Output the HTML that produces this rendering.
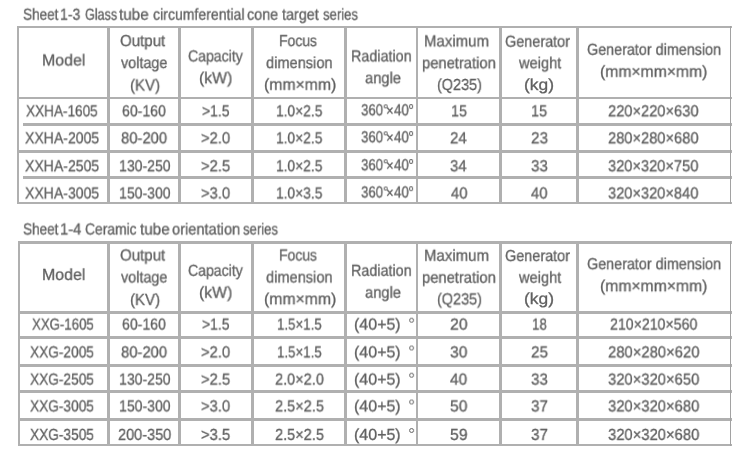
<!DOCTYPE html><html><head><meta charset="utf-8"><style>
html,body{margin:0;padding:0;background:#fff;}
body{width:750px;height:460px;overflow:hidden;position:relative;font-family:"Liberation Sans",sans-serif;color:#606060;text-rendering:geometricPrecision;}
.t{position:absolute;white-space:nowrap;font-size:16px;line-height:16px;will-change:transform;-webkit-text-stroke:0.3px #606060;}
.l{position:absolute;background:#b0b0b0;}
.r{position:absolute;box-sizing:border-box;border-style:solid;border-color:#606060;border-radius:50%;will-change:transform;}
</style></head><body>
<div class="l" style="left:17px;top:26px;width:715px;height:2px"></div>
<div class="l" style="left:17px;top:97px;width:715px;height:2px"></div>
<div class="l" style="left:23px;top:123px;width:709px;height:3px"></div>
<div class="l" style="left:17px;top:150px;width:715px;height:3px"></div>
<div class="l" style="left:23px;top:176px;width:709px;height:3px"></div>
<div class="l" style="left:17px;top:202px;width:715px;height:2px"></div>
<div class="l" style="left:18px;top:241px;width:714px;height:3px"></div>
<div class="l" style="left:20px;top:311px;width:712px;height:3px"></div>
<div class="l" style="left:18px;top:336px;width:714px;height:3px"></div>
<div class="l" style="left:20px;top:364px;width:712px;height:3px"></div>
<div class="l" style="left:18px;top:390px;width:714px;height:3px"></div>
<div class="l" style="left:18px;top:418px;width:714px;height:3px"></div>
<div class="l" style="left:18px;top:444px;width:714px;height:2px"></div>
<div class="l" style="left:17px;top:26px;width:2px;height:178px"></div>
<div class="l" style="left:107px;top:26px;width:3px;height:178px"></div>
<div class="l" style="left:178px;top:26px;width:3px;height:178px"></div>
<div class="l" style="left:251px;top:26px;width:3px;height:178px"></div>
<div class="l" style="left:344px;top:26px;width:3px;height:178px"></div>
<div class="l" style="left:416px;top:26px;width:2px;height:178px"></div>
<div class="l" style="left:499px;top:26px;width:3px;height:178px"></div>
<div class="l" style="left:576px;top:26px;width:3px;height:178px"></div>
<div class="l" style="left:730px;top:26px;width:1px;height:178px;background:#a2a2a2"></div>
<div class="l" style="left:18px;top:241px;width:2px;height:205px"></div>
<div class="l" style="left:107px;top:241px;width:3px;height:205px"></div>
<div class="l" style="left:178px;top:241px;width:3px;height:205px"></div>
<div class="l" style="left:251px;top:241px;width:3px;height:205px"></div>
<div class="l" style="left:344px;top:241px;width:3px;height:205px"></div>
<div class="l" style="left:416px;top:241px;width:2px;height:205px"></div>
<div class="l" style="left:499px;top:241px;width:3px;height:205px"></div>
<div class="l" style="left:576px;top:241px;width:3px;height:205px"></div>
<div class="l" style="left:730px;top:241px;width:1px;height:205px;background:#a2a2a2"></div>
<div class="t" style="left:22.58px;top:7px;transform-origin:0 12.0px;transform:translateY(0.70px) scale(0.8472,1.000)">Sheet</div>
<div class="t" style="left:60.03px;top:7px;transform-origin:0 12.0px;transform:translateY(0.70px) scale(0.8774,1.000)">1-3</div>
<div class="t" style="left:84.67px;top:7px;transform-origin:0 12.0px;transform:translateY(0.70px) scale(0.7844,1.000)">Glass</div>
<div class="t" style="left:119.27px;top:7px;transform-origin:0 12.0px;transform:translateY(0.70px) scale(0.9539,1.000)">tube</div>
<div class="t" style="left:152.71px;top:7px;transform-origin:0 12.0px;transform:translateY(0.70px) scale(0.8799,1.000)">circumferential</div>
<div class="t" style="left:247.40px;top:7px;transform-origin:0 12.0px;transform:translateY(0.70px) scale(0.8976,1.000)">cone</div>
<div class="t" style="left:281.88px;top:7px;transform-origin:0 12.0px;transform:translateY(0.70px) scale(0.8974,1.000)">target</div>
<div class="t" style="left:322.73px;top:7px;transform-origin:0 12.0px;transform:translateY(0.70px) scale(0.8185,1.000)">series</div>
<div class="t" style="left:22.58px;top:222px;transform-origin:0 12.0px;transform:translateY(0.50px) scale(0.8472,1.000)">Sheet</div>
<div class="t" style="left:59.98px;top:222px;transform-origin:0 12.0px;transform:translateY(0.50px) scale(0.9188,1.000)">1-4</div>
<div class="t" style="left:84.89px;top:222px;transform-origin:0 12.0px;transform:translateY(0.50px) scale(0.8657,1.000)">Ceramic</div>
<div class="t" style="left:140.07px;top:222px;transform-origin:0 12.0px;transform:translateY(0.50px) scale(0.9539,1.000)">tube</div>
<div class="t" style="left:172.09px;top:222px;transform-origin:0 12.0px;transform:translateY(0.50px) scale(0.9122,1.000)">orientation</div>
<div class="t" style="left:243.23px;top:222px;transform-origin:0 12.0px;transform:translateY(0.50px) scale(0.8185,1.000)">series</div>
<div class="t" style="left:42.20px;top:53px;transform-origin:0 12.0px;transform:translateY(0.50px) scale(0.9931,1.000)">Model</div>
<div class="t" style="left:119.69px;top:34px;transform-origin:0 12.0px;transform:translateY(0.10px) scale(0.9413,1.000)">Output</div>
<div class="t" style="left:121.34px;top:56px;transform-origin:0 12.0px;transform:translateY(0.10px) scale(0.8974,1.000)">voltage</div>
<div class="t" style="left:129.57px;top:78px;transform-origin:0 12.0px;transform:translateY(0.50px) scale(0.9395,1.000)">(KV)</div>
<div class="t" style="left:187.78px;top:49px;transform-origin:0 12.0px;transform:translateY(0.40px) scale(0.8794,1.000)">Capacity</div>
<div class="t" style="left:198.92px;top:71px;transform-origin:0 12.0px;transform:translateY(0.30px) scale(0.9850,1.000)">(kW)</div>
<div class="t" style="left:278.76px;top:34px;transform-origin:0 12.0px;transform:translateY(0.10px) scale(0.8709,1.000)">Focus</div>
<div class="t" style="left:266.39px;top:56px;transform-origin:0 12.0px;transform:translateY(0.10px) scale(0.9127,1.000)">dimension</div>
<div class="t" style="left:263.72px;top:77px;transform-origin:0 12.0px;transform:translateY(0.80px) scale(0.9856,1.000)">(mm×mm)</div>
<div class="t" style="left:350.62px;top:49px;transform-origin:0 12.0px;transform:translateY(0.40px) scale(0.8966,1.000)">Radiation</div>
<div class="t" style="left:365.28px;top:71px;transform-origin:0 12.0px;transform:translateY(0.30px) scale(0.9186,1.000)">angle</div>
<div class="t" style="left:424.27px;top:34px;transform-origin:0 12.0px;transform:translateY(0.40px) scale(0.9376,1.000)">Maximum</div>
<div class="t" style="left:422.26px;top:56px;transform-origin:0 12.0px;transform:translateY(0.30px) scale(0.9218,1.000)">penetration</div>
<div class="t" style="left:436.61px;top:78px;transform-origin:0 12.0px;transform:translateY(0.00px) scale(0.9015,1.000)">(Q235)</div>
<div class="t" style="left:505.08px;top:34px;transform-origin:0 12.0px;transform:translateY(0.70px) scale(0.9019,1.000)">Generator</div>
<div class="t" style="left:518.61px;top:56px;transform-origin:0 12.0px;transform:translateY(0.30px) scale(0.9142,1.000)">weight</div>
<div class="t" style="left:523.92px;top:78px;transform-origin:0 12.0px;transform:translateY(0.00px) scale(1.0873,1.000)">(kg)</div>
<div class="t" style="left:586.88px;top:42px;transform-origin:0 12.0px;transform:translateY(0.80px) scale(0.8972,1.000)">Generator dimension</div>
<div class="t" style="left:600.03px;top:64px;transform-origin:0 12.0px;transform:translateY(0.80px) scale(0.9820,1.000)">(mm×mm×mm)</div>
<div class="t" style="left:42.20px;top:267px;transform-origin:0 12.0px;transform:translateY(0.90px) scale(0.9931,1.000)">Model</div>
<div class="t" style="left:119.69px;top:248px;transform-origin:0 12.0px;transform:translateY(0.50px) scale(0.9413,1.000)">Output</div>
<div class="t" style="left:121.34px;top:270px;transform-origin:0 12.0px;transform:translateY(0.50px) scale(0.8974,1.000)">voltage</div>
<div class="t" style="left:129.57px;top:292px;transform-origin:0 12.0px;transform:translateY(0.90px) scale(0.9395,1.000)">(KV)</div>
<div class="t" style="left:187.78px;top:263px;transform-origin:0 12.0px;transform:translateY(0.80px) scale(0.8794,1.000)">Capacity</div>
<div class="t" style="left:198.92px;top:285px;transform-origin:0 12.0px;transform:translateY(0.70px) scale(0.9850,1.000)">(kW)</div>
<div class="t" style="left:278.76px;top:248px;transform-origin:0 12.0px;transform:translateY(0.50px) scale(0.8709,1.000)">Focus</div>
<div class="t" style="left:266.39px;top:270px;transform-origin:0 12.0px;transform:translateY(0.50px) scale(0.9127,1.000)">dimension</div>
<div class="t" style="left:263.72px;top:292px;transform-origin:0 12.0px;transform:translateY(0.20px) scale(0.9856,1.000)">(mm×mm)</div>
<div class="t" style="left:350.62px;top:263px;transform-origin:0 12.0px;transform:translateY(0.80px) scale(0.8966,1.000)">Radiation</div>
<div class="t" style="left:365.28px;top:285px;transform-origin:0 12.0px;transform:translateY(0.70px) scale(0.9186,1.000)">angle</div>
<div class="t" style="left:424.27px;top:248px;transform-origin:0 12.0px;transform:translateY(0.80px) scale(0.9376,1.000)">Maximum</div>
<div class="t" style="left:422.26px;top:270px;transform-origin:0 12.0px;transform:translateY(0.70px) scale(0.9218,1.000)">penetration</div>
<div class="t" style="left:436.61px;top:292px;transform-origin:0 12.0px;transform:translateY(0.40px) scale(0.9015,1.000)">(Q235)</div>
<div class="t" style="left:505.08px;top:249px;transform-origin:0 12.0px;transform:translateY(0.10px) scale(0.9019,1.000)">Generator</div>
<div class="t" style="left:518.61px;top:270px;transform-origin:0 12.0px;transform:translateY(0.70px) scale(0.9142,1.000)">weight</div>
<div class="t" style="left:523.92px;top:292px;transform-origin:0 12.0px;transform:translateY(0.40px) scale(1.0873,1.000)">(kg)</div>
<div class="t" style="left:586.88px;top:257px;transform-origin:0 12.0px;transform:translateY(0.20px) scale(0.8972,1.000)">Generator dimension</div>
<div class="t" style="left:600.03px;top:279px;transform-origin:0 12.0px;transform:translateY(0.20px) scale(0.9820,1.000)">(mm×mm×mm)</div>
<div class="t" style="left:26.29px;top:104px;transform-origin:0 12.0px;transform:translateY(0.35px) scale(0.8484,1.000)">XXHA-1605</div>
<div class="t" style="left:122.48px;top:104px;transform-origin:0 12.0px;transform:translateY(0.35px) scale(0.8805,1.000)">60-160</div>
<div class="t" style="left:201.92px;top:104px;transform-origin:0 12.0px;transform:translateY(0.35px) scale(0.8696,1.000)">>1.5</div>
<div class="t" style="left:276.15px;top:104px;transform-origin:0 12.0px;transform:translateY(0.35px) scale(0.8607,1.000)">1.0×2.5</div>
<div class="t" style="left:361.40px;top:103px;transform-origin:0 12.0px;transform:translateY(0.35px) scale(0.8250,1.000)">360</div>
<div class="t" style="left:386.09px;top:103px;transform-origin:0 12.0px;transform:translateY(0.61px) scale(0.8146,0.941)">×</div>
<div class="t" style="left:393.69px;top:103px;transform-origin:0 12.0px;transform:translateY(0.35px) scale(0.8333,1.000)">40</div>
<div class="t" style="left:450.51px;top:104px;transform-origin:0 12.0px;transform:translateY(0.35px) scale(0.8929,1.000)">15</div>
<div class="t" style="left:531.11px;top:104px;transform-origin:0 12.0px;transform:translateY(0.35px) scale(0.8991,1.000)">15</div>
<div class="t" style="left:608.07px;top:104px;transform-origin:0 12.0px;transform:translateY(0.35px) scale(0.9163,1.000)">220×220×630</div>
<div class="t" style="left:25.08px;top:131px;transform-origin:0 12.0px;transform:translateY(0.35px) scale(0.8771,1.000)">XXHA-2005</div>
<div class="t" style="left:121.36px;top:131px;transform-origin:0 12.0px;transform:translateY(0.35px) scale(0.9235,1.000)">80-200</div>
<div class="t" style="left:201.28px;top:131px;transform-origin:0 12.0px;transform:translateY(0.35px) scale(0.9213,1.000)">>2.0</div>
<div class="t" style="left:276.15px;top:131px;transform-origin:0 12.0px;transform:translateY(0.35px) scale(0.8607,1.000)">1.0×2.5</div>
<div class="t" style="left:361.40px;top:130px;transform-origin:0 12.0px;transform:translateY(0.35px) scale(0.8250,1.000)">360</div>
<div class="t" style="left:386.09px;top:130px;transform-origin:0 12.0px;transform:translateY(0.61px) scale(0.8146,0.941)">×</div>
<div class="t" style="left:393.69px;top:130px;transform-origin:0 12.0px;transform:translateY(0.35px) scale(0.8333,1.000)">40</div>
<div class="t" style="left:450.25px;top:131px;transform-origin:0 12.0px;transform:translateY(0.35px) scale(0.9378,1.000)">24</div>
<div class="t" style="left:530.94px;top:131px;transform-origin:0 12.0px;transform:translateY(0.35px) scale(0.9516,1.000)">23</div>
<div class="t" style="left:608.07px;top:131px;transform-origin:0 12.0px;transform:translateY(0.35px) scale(0.9163,1.000)">280×280×680</div>
<div class="t" style="left:25.08px;top:159px;transform-origin:0 12.0px;transform:translateY(0.30px) scale(0.8771,1.000)">XXHA-2505</div>
<div class="t" style="left:118.93px;top:159px;transform-origin:0 12.0px;transform:translateY(0.30px) scale(0.8790,1.000)">130-250</div>
<div class="t" style="left:201.28px;top:159px;transform-origin:0 12.0px;transform:translateY(0.30px) scale(0.9227,1.000)">>2.5</div>
<div class="t" style="left:276.15px;top:159px;transform-origin:0 12.0px;transform:translateY(0.30px) scale(0.8607,1.000)">1.0×2.5</div>
<div class="t" style="left:361.40px;top:158px;transform-origin:0 12.0px;transform:translateY(0.30px) scale(0.8250,1.000)">360</div>
<div class="t" style="left:386.09px;top:158px;transform-origin:0 12.0px;transform:translateY(0.56px) scale(0.8146,0.941)">×</div>
<div class="t" style="left:393.69px;top:158px;transform-origin:0 12.0px;transform:translateY(0.30px) scale(0.8333,1.000)">40</div>
<div class="t" style="left:450.44px;top:159px;transform-origin:0 12.0px;transform:translateY(0.30px) scale(0.9270,1.000)">34</div>
<div class="t" style="left:531.13px;top:159px;transform-origin:0 12.0px;transform:translateY(0.30px) scale(0.9405,1.000)">33</div>
<div class="t" style="left:608.24px;top:159px;transform-origin:0 12.0px;transform:translateY(0.30px) scale(0.9145,1.000)">320×320×750</div>
<div class="t" style="left:25.08px;top:186px;transform-origin:0 12.0px;transform:translateY(0.50px) scale(0.8771,1.000)">XXHA-3005</div>
<div class="t" style="left:118.93px;top:186px;transform-origin:0 12.0px;transform:translateY(0.50px) scale(0.8790,1.000)">150-300</div>
<div class="t" style="left:201.28px;top:186px;transform-origin:0 12.0px;transform:translateY(0.50px) scale(0.9213,1.000)">>3.0</div>
<div class="t" style="left:276.15px;top:186px;transform-origin:0 12.0px;transform:translateY(0.50px) scale(0.8607,1.000)">1.0×3.5</div>
<div class="t" style="left:361.40px;top:185px;transform-origin:0 12.0px;transform:translateY(0.50px) scale(0.8250,1.000)">360</div>
<div class="t" style="left:386.09px;top:185px;transform-origin:0 12.0px;transform:translateY(0.76px) scale(0.8146,0.941)">×</div>
<div class="t" style="left:393.69px;top:185px;transform-origin:0 12.0px;transform:translateY(0.50px) scale(0.8333,1.000)">40</div>
<div class="t" style="left:450.66px;top:186px;transform-origin:0 12.0px;transform:translateY(0.50px) scale(0.9226,1.000)">40</div>
<div class="t" style="left:531.36px;top:186px;transform-origin:0 12.0px;transform:translateY(0.50px) scale(0.9226,1.000)">40</div>
<div class="t" style="left:608.24px;top:186px;transform-origin:0 12.0px;transform:translateY(0.50px) scale(0.9145,1.000)">320×320×840</div>
<div class="t" style="left:31.50px;top:317px;transform-origin:0 12.0px;transform:translateY(0.60px) scale(0.8267,1.000)">XXG-1605</div>
<div class="t" style="left:122.48px;top:317px;transform-origin:0 12.0px;transform:translateY(0.60px) scale(0.8805,1.000)">60-160</div>
<div class="t" style="left:201.92px;top:317px;transform-origin:0 12.0px;transform:translateY(0.60px) scale(0.8696,1.000)">>1.5</div>
<div class="t" style="left:276.89px;top:317px;transform-origin:0 12.0px;transform:translateY(0.60px) scale(0.8299,1.000)">1.5×1.5</div>
<div class="t" style="left:354.11px;top:317px;transform-origin:0 12.0px;transform:translateY(0.60px) scale(0.9977,1.000)">(40+5)</div>
<div class="t" style="left:450.01px;top:317px;transform-origin:0 12.0px;transform:translateY(0.60px) scale(0.9836,1.000)">20</div>
<div class="t" style="left:531.99px;top:317px;transform-origin:0 12.0px;transform:translateY(0.60px) scale(0.8308,1.000)">18</div>
<div class="t" style="left:610.09px;top:317px;transform-origin:0 12.0px;transform:translateY(0.60px) scale(0.8835,1.000)">210×210×560</div>
<div class="t" style="left:30.29px;top:345px;transform-origin:0 12.0px;transform:translateY(0.40px) scale(0.8552,1.000)">XXG-2005</div>
<div class="t" style="left:121.36px;top:345px;transform-origin:0 12.0px;transform:translateY(0.40px) scale(0.9235,1.000)">80-200</div>
<div class="t" style="left:201.28px;top:345px;transform-origin:0 12.0px;transform:translateY(0.40px) scale(0.9213,1.000)">>2.0</div>
<div class="t" style="left:276.89px;top:345px;transform-origin:0 12.0px;transform:translateY(0.40px) scale(0.8299,1.000)">1.5×1.5</div>
<div class="t" style="left:354.11px;top:345px;transform-origin:0 12.0px;transform:translateY(0.40px) scale(0.9977,1.000)">(40+5)</div>
<div class="t" style="left:450.21px;top:345px;transform-origin:0 12.0px;transform:translateY(0.40px) scale(0.9722,1.000)">30</div>
<div class="t" style="left:530.94px;top:345px;transform-origin:0 12.0px;transform:translateY(0.40px) scale(0.9498,1.000)">25</div>
<div class="t" style="left:607.96px;top:345px;transform-origin:0 12.0px;transform:translateY(0.40px) scale(0.9256,1.000)">280×280×620</div>
<div class="t" style="left:30.29px;top:372px;transform-origin:0 12.0px;transform:translateY(0.60px) scale(0.8552,1.000)">XXG-2505</div>
<div class="t" style="left:118.93px;top:372px;transform-origin:0 12.0px;transform:translateY(0.60px) scale(0.8790,1.000)">130-250</div>
<div class="t" style="left:201.28px;top:372px;transform-origin:0 12.0px;transform:translateY(0.60px) scale(0.9227,1.000)">>2.5</div>
<div class="t" style="left:275.07px;top:372px;transform-origin:0 12.0px;transform:translateY(0.60px) scale(0.9084,1.000)">2.0×2.0</div>
<div class="t" style="left:354.11px;top:372px;transform-origin:0 12.0px;transform:translateY(0.60px) scale(0.9977,1.000)">(40+5)</div>
<div class="t" style="left:450.45px;top:372px;transform-origin:0 12.0px;transform:translateY(0.60px) scale(0.9583,1.000)">40</div>
<div class="t" style="left:531.13px;top:372px;transform-origin:0 12.0px;transform:translateY(0.60px) scale(0.9405,1.000)">33</div>
<div class="t" style="left:608.14px;top:372px;transform-origin:0 12.0px;transform:translateY(0.60px) scale(0.9238,1.000)">320×320×650</div>
<div class="t" style="left:30.29px;top:399px;transform-origin:0 12.0px;transform:translateY(0.40px) scale(0.8552,1.000)">XXG-3005</div>
<div class="t" style="left:118.93px;top:399px;transform-origin:0 12.0px;transform:translateY(0.40px) scale(0.8790,1.000)">150-300</div>
<div class="t" style="left:201.28px;top:399px;transform-origin:0 12.0px;transform:translateY(0.40px) scale(0.9213,1.000)">>3.0</div>
<div class="t" style="left:275.07px;top:399px;transform-origin:0 12.0px;transform:translateY(0.40px) scale(0.9092,1.000)">2.5×2.5</div>
<div class="t" style="left:354.11px;top:399px;transform-origin:0 12.0px;transform:translateY(0.40px) scale(0.9977,1.000)">(40+5)</div>
<div class="t" style="left:450.18px;top:399px;transform-origin:0 12.0px;transform:translateY(0.40px) scale(0.9741,1.000)">50</div>
<div class="t" style="left:531.12px;top:399px;transform-origin:0 12.0px;transform:translateY(0.40px) scale(0.9460,1.000)">37</div>
<div class="t" style="left:608.14px;top:399px;transform-origin:0 12.0px;transform:translateY(0.40px) scale(0.9238,1.000)">320×320×680</div>
<div class="t" style="left:30.29px;top:427px;transform-origin:0 12.0px;transform:translateY(0.90px) scale(0.8552,1.000)">XXG-3505</div>
<div class="t" style="left:118.27px;top:427px;transform-origin:0 12.0px;transform:translateY(0.90px) scale(0.9076,1.000)">200-350</div>
<div class="t" style="left:201.28px;top:427px;transform-origin:0 12.0px;transform:translateY(0.90px) scale(0.9227,1.000)">>3.5</div>
<div class="t" style="left:275.07px;top:427px;transform-origin:0 12.0px;transform:translateY(0.90px) scale(0.9092,1.000)">2.5×2.5</div>
<div class="t" style="left:354.11px;top:427px;transform-origin:0 12.0px;transform:translateY(0.90px) scale(0.9977,1.000)">(40+5)</div>
<div class="t" style="left:450.17px;top:427px;transform-origin:0 12.0px;transform:translateY(0.90px) scale(0.9817,1.000)">59</div>
<div class="t" style="left:531.12px;top:427px;transform-origin:0 12.0px;transform:translateY(0.90px) scale(0.9460,1.000)">37</div>
<div class="t" style="left:608.14px;top:427px;transform-origin:0 12.0px;transform:translateY(0.90px) scale(0.9238,1.000)">320×320×680</div>
<div class="r" style="left:383px;top:104px;width:4.00px;height:3.70px;border-width:1.50px;transform:translate(0.70px,0.35px)"></div>
<div class="r" style="left:409px;top:104px;width:4.20px;height:4.70px;border-width:1.70px;transform:translate(0.10px,0.05px)"></div>
<div class="r" style="left:383px;top:131px;width:4.00px;height:3.70px;border-width:1.50px;transform:translate(0.70px,0.35px)"></div>
<div class="r" style="left:409px;top:131px;width:4.20px;height:4.70px;border-width:1.70px;transform:translate(0.10px,0.05px)"></div>
<div class="r" style="left:383px;top:159px;width:4.00px;height:3.70px;border-width:1.50px;transform:translate(0.70px,0.30px)"></div>
<div class="r" style="left:409px;top:159px;width:4.20px;height:4.70px;border-width:1.70px;transform:translate(0.10px,0.00px)"></div>
<div class="r" style="left:383px;top:186px;width:4.00px;height:3.70px;border-width:1.50px;transform:translate(0.70px,0.50px)"></div>
<div class="r" style="left:409px;top:186px;width:4.20px;height:4.70px;border-width:1.70px;transform:translate(0.10px,0.20px)"></div>
<div class="r" style="left:409px;top:317px;width:5.10px;height:5.10px;border-width:1.90px;transform:translate(0.10px,0.70px)"></div>
<div class="r" style="left:409px;top:345px;width:5.10px;height:5.10px;border-width:1.90px;transform:translate(0.10px,0.50px)"></div>
<div class="r" style="left:409px;top:372px;width:5.10px;height:5.10px;border-width:1.90px;transform:translate(0.10px,0.70px)"></div>
<div class="r" style="left:409px;top:399px;width:5.10px;height:5.10px;border-width:1.90px;transform:translate(0.10px,0.50px)"></div>
<div class="r" style="left:409px;top:428px;width:5.10px;height:5.10px;border-width:1.90px;transform:translate(0.10px,0.00px)"></div>
</body></html>
